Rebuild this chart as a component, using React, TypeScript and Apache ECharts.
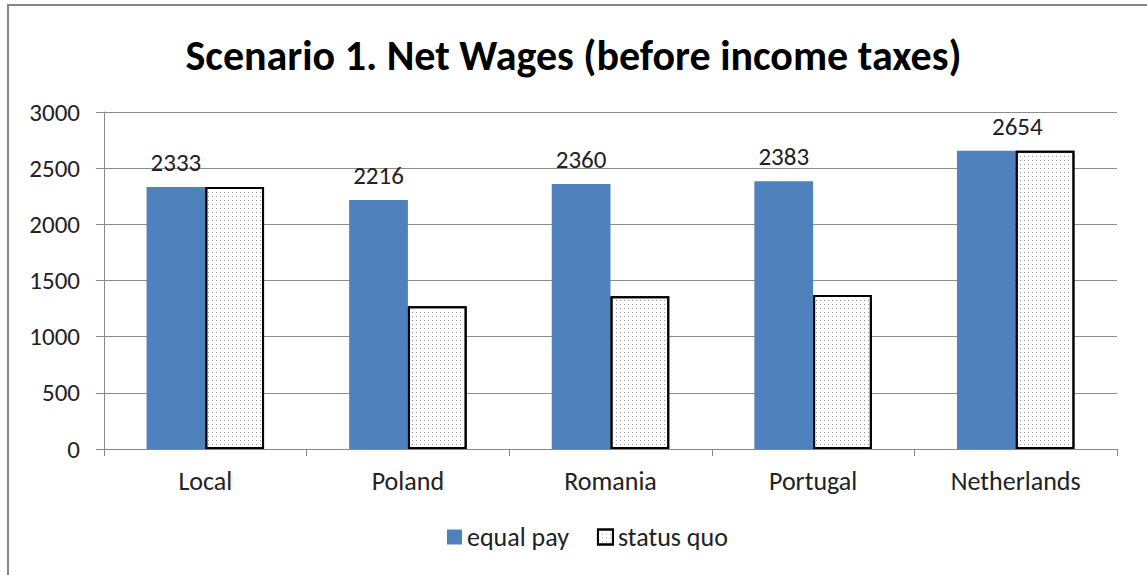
import React, { useEffect, useRef } from "react";
import * as echarts from "echarts";

const categories = ["Local", "Poland", "Romania", "Portugal", "Netherlands"];
const equalPay = [2333, 2216, 2360, 2383, 2654];
const statusQuo = [2333, 1270, 1360, 1370, 2654];
const yTicks = [0, 500, 1000, 1500, 2000, 2500, 3000];

export default function App() {
  const ref = useRef<HTMLDivElement>(null);
  useEffect(() => {
    const chart = echarts.init(ref.current!, null, { renderer: "svg" });
    const font = "Calibri, Carlito, Lato, 'Open Sans', sans-serif";
    const fs = 25;
    chart.setOption({
      animation: false,
      backgroundColor: "#fff",
      textStyle: { fontFamily: font },
      title: {
        text: "Scenario 1. Net Wages (before income taxes)",
        left: "center",
        top: 29,
        textStyle: { fontSize: 42, fontWeight: "bold", color: "#000", fontFamily: font },
      },
      graphic: [
        {
          type: "rect",
          shape: { x: 8, y: 5, width: 1200, height: 640 },
          style: { fill: "none", stroke: "#868686", lineWidth: 2 },
          silent: true,
        },
      ],
      legend: {
        bottom: 20,
        left: 442,
        icon: "rect",
        itemWidth: 15,
        itemHeight: 15,
        itemGap: 28,
        textStyle: { fontSize: 26, color: "#222", fontFamily: font },
        data: ["equal pay", "status quo"],
      },
      grid: { left: 104, right: 30, top: 112, bottom: 126 },
      xAxis: {
        type: "category",
        data: categories,
        axisLine: { lineStyle: { color: "#888", width: 1 } },
        axisTick: { show: true, length: 7, lineStyle: { color: "#888" } },
        axisLabel: { fontSize: 26, color: "#222", margin: 19, fontFamily: font },
      },
      yAxis: {
        type: "value",
        min: yTicks[0],
        max: yTicks[yTicks.length - 1],
        interval: 500,
        axisLine: { show: true, lineStyle: { color: "#888", width: 1 } },
        axisTick: { show: true, length: 8, inside: false, lineStyle: { color: "#888" } },
        axisLabel: {
          fontSize: fs,
          color: "#222",
          margin: 24,
          fontFamily: font,
          formatter: (v: number) => String(v),
        },
        splitLine: { lineStyle: { color: "#8c8c8c", width: 1 } },
      },
      series: [
        {
          name: "equal pay",
          type: "bar",
          barCategoryGap: "42%",
          barGap: "0%",
          itemStyle: { color: "#4F81BD" },
          data: equalPay.map((v, i) =>
            i === equalPay.length - 1
              ? { value: v, label: { offset: [31, 0] } }
              : v
          ),
          label: {
            show: true,
            position: "top",
            distance: 12,
            fontSize: fs,
            color: "#222",
            fontFamily: font,
          },
        },
        {
          name: "status quo",
          type: "bar",
          barGap: "0%",
          itemStyle: {
            color: "#fff",
            borderColor: "#000",
            borderWidth: 2,
            decal: {
              symbol: "rect",
              symbolSize: 1,
              color: "#9a9a9a",
              dashArrayX: [1, 3],
              dashArrayY: [1, 3],
              rotation: 0,
            },
          },
          data: statusQuo,
        },
      ],
    });
    return () => chart.dispose();
  }, []);
  return (
    <div
      ref={ref}
      style={{ position: "absolute", left: 0, top: 0, width: 1147, height: 575 }}
    />
  );
}
